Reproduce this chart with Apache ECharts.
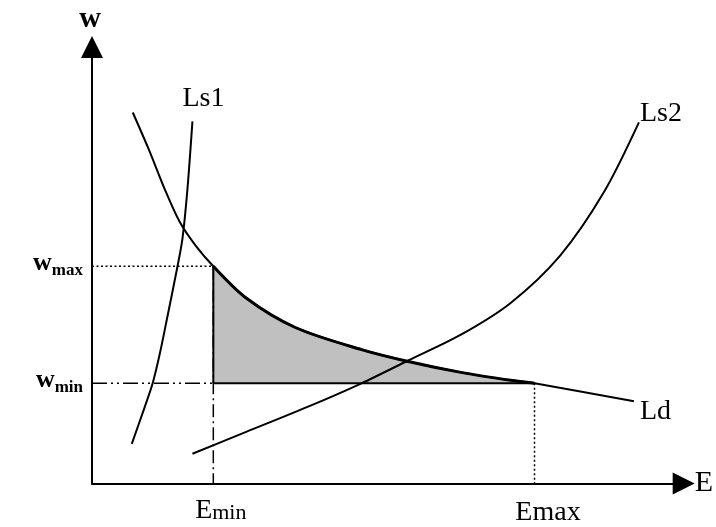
<!DOCTYPE html>
<html>
<head>
<meta charset="utf-8">
<script src="https://cdn.jsdelivr.net/npm/echarts@6/dist/echarts.min.js"></script>
<style>
  html, body { margin: 0; padding: 0; background: #fff; }
  #chart { width: 716px; height: 527px; }
</style>
</head>
<body>
<div id="chart"></div>
<script>
// Key levels
const E_MIN = 24.4, E_MAX = 89.0, W_MIN = 20.2, W_MAX = 43.8;

// Labour demand curve Ld
const ldE = [8.2, 11.4, 14.6, 17.6, 20.8, 24.4, 31.0, 41.0, 54.2, 63.6, 74.2, 84.2, 89.0, 109.0];
const ldW = [74.8, 67.4, 59.4, 52.8, 48.0, 43.8, 37.4, 31.4, 27.0, 24.6, 22.4, 20.8, 20.2, 16.6];
// Labour supply curve Ls1
const ls1E = [8.0, 10.6, 12.2, 13.6, 15.0, 17.2, 18.2, 19.2, 20.2];
const ls1W = [8.0, 15.4, 20.2, 26.0, 32.8, 43.8, 49.4, 59.4, 73.0];
// Labour supply curve Ls2
const ls2E = [20.2, 31.0, 44.2, 54.2, 63.6, 74.2, 84.2, 94.2, 103.0, 110.0];
const ls2W = [6.0, 10.4, 15.8, 20.2, 24.8, 30.0, 36.4, 46.0, 58.8, 72.8];

const curveNames = ['Ld', 'Ls1', 'Ls2'];
const xTickLabels = ['Emin', 'Emax'];
const yTickLabels = ['wmin', 'wmax'];

const FONT = "'Liberation Serif', 'Times New Roman', serif";
const zip = (a, b) => a.map((v, i) => [v, b[i]]);

const ldData = zip(ldE, ldW);
const shadeData = ldData.filter(p => p[0] >= E_MIN - 1e-9 && p[0] <= E_MAX + 1e-9);

function seg(data, type, width) {
  return {
    type: 'line', data: data, symbol: 'none', silent: true, z: 3,
    lineStyle: { color: '#000', width: width, type: type }
  };
}

const chart = echarts.init(document.getElementById('chart'), null, { renderer: 'canvas' });

const option = {
  animation: false,
  backgroundColor: '#fff',
  grid: { left: 92, top: 47, width: 595, height: 440 },
  xAxis: {
    type: 'value', min: 0, max: 119,
    name: 'E', nameLocation: 'end', nameGap: 11,
    nameTextStyle: { fontFamily: FONT, fontSize: 30, color: '#000', align: 'left', verticalAlign: 'middle' },
    axisLine: { show: true, lineStyle: { color: '#000', width: 2 }, symbol: ['none', 'triangle'], symbolSize: [22, 22] },
    axisTick: { show: false },
    splitLine: { show: false },
    axisLabel: {
      show: true, margin: 13,
      customValues: [E_MIN, E_MAX],
      formatter: function (v) {
        return Math.abs(v - E_MIN) < 1e-6 ? '{e|E}{s|min}' : '{m|Emax}';
      },
      rich: {
        e: { fontFamily: FONT, fontSize: 28, lineHeight: 28, color: '#000', padding: [0, 0, 0, 15] },
        s: { fontFamily: FONT, fontSize: 22, lineHeight: 18, color: '#000', verticalAlign: 'bottom' },
        m: { fontFamily: FONT, fontSize: 28, lineHeight: 28, color: '#000', padding: [5, 0, 0, 27] }
      }
    }
  },
  yAxis: {
    type: 'value', min: 0, max: 88,
    name: 'w', nameLocation: 'end', nameGap: 28,
    nameTextStyle: { fontFamily: FONT, fontSize: 30, fontWeight: 'bold', color: '#000', align: 'center', verticalAlign: 'middle', padding: [0, 4, 0, 0] },
    axisLine: { show: true, lineStyle: { color: '#000', width: 2 }, symbol: ['none', 'triangle'], symbolSize: [22, 22] },
    axisTick: { show: false },
    splitLine: { show: false },
    axisLabel: {
      show: true, margin: 9,
      customValues: [W_MIN, W_MAX],
      formatter: function (v) {
        return Math.abs(v - W_MAX) < 1e-6 ? '{w|w}{s|max}' : '{w|w}{s|min}';
      },
      rich: {
        w: { fontFamily: FONT, fontSize: 26, fontWeight: 'bold', lineHeight: 26, color: '#000', padding: [0, 0, 6, 0] },
        s: { fontFamily: FONT, fontSize: 17, fontWeight: 'bold', lineHeight: 17, color: '#000', verticalAlign: 'bottom' }
      }
    }
  },
  series: [
    {
      name: 'shade', type: 'line', data: shadeData, symbol: 'none', silent: true, z: 1,
      smooth: 0.3,
      lineStyle: { color: '#000', width: 3 },
      areaStyle: { color: '#c0c0c0', opacity: 1, origin: W_MIN }
    },
    seg([[E_MIN, W_MIN], [E_MAX, W_MIN]], 'solid', 2),
    seg([[E_MIN, W_MIN], [E_MIN, W_MAX]], 'solid', 2),
    seg([[0, W_MAX], [E_MIN, W_MAX]], [2, 2.5], 1.5),
    seg([[E_MIN, W_MAX], [E_MIN, 0]], [13, 4, 2, 4], 1.5),
    seg([[0, W_MIN], [E_MIN, W_MIN]], [15, 4, 2, 4, 2, 4], 1.5),
    seg([[E_MAX, W_MIN], [E_MAX, 0]], [2, 2.5], 1.5),
    {
      name: curveNames[0], type: 'line', data: ldData, symbol: 'none', silent: true, z: 4,
      smooth: 0.3, lineStyle: { color: '#000', width: 2 }
    },
    {
      name: curveNames[1], type: 'line', data: zip(ls1E, ls1W), symbol: 'none', silent: true, z: 4,
      smooth: 0.3, lineStyle: { color: '#000', width: 2 }
    },
    {
      name: curveNames[2], type: 'line', data: zip(ls2E, ls2W), symbol: 'none', silent: true, z: 4,
      smooth: 0.3, lineStyle: { color: '#000', width: 2 }
    }
  ]
};

chart.setOption(option);

// Curve name labels placed relative to the curve end points
const ends = [
  { name: curveNames[0], pt: [ldE[ldE.length - 1], ldW[ldW.length - 1]], dx: 6, dy: 10 },
  { name: curveNames[1], pt: [ls1E[ls1E.length - 1], ls1W[ls1W.length - 1]], dx: -10, dy: -23 },
  { name: curveNames[2], pt: [ls2E[ls2E.length - 1], ls2W[ls2W.length - 1]], dx: 1, dy: -9 }
];
const graphics = ends.map(e => {
  const p = chart.convertToPixel({ gridIndex: 0 }, e.pt);
  return {
    type: 'text', silent: true, z: 10,
    x: p[0] + e.dx, y: p[1] + e.dy,
    style: { text: e.name, font: '28px ' + FONT, fill: '#000', align: 'left', verticalAlign: 'middle', lineHeight: 28 }
  };
});
chart.setOption({ graphic: graphics });
</script>
</body>
</html>
